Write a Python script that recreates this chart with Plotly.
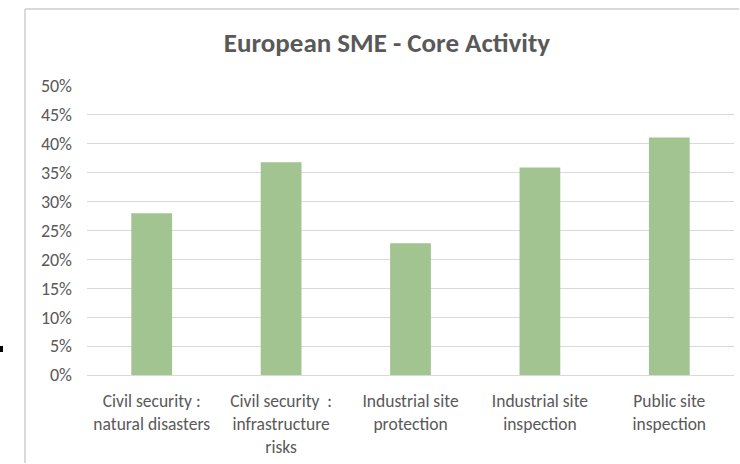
import plotly.graph_objects as go

categories = [
    "Civil security :<br>natural disasters",
    "Civil security \u00a0:<br>infrastructure<br>risks",
    "Industrial site<br>protection",
    "Industrial site<br>inspection",
    "Public site<br>inspection",
]
values = [0.28, 0.368, 0.228, 0.359, 0.411]
tick_vals = [0, 0.05, 0.10, 0.15, 0.20, 0.25, 0.30, 0.35, 0.40, 0.45, 0.50]
tick_text = ["0%", "5%", "10%", "15%", "20%", "25%", "30%", "35%", "40%", "45%", "50%"]

W, H = 740, 464
L, R, T, B = 87, 6, 86, 89
pw, ph = W - L - R, H - T - B

def px_x(px):
    return (px - L) / pw

def px_y(py):
    return (H - B - py) / ph

FONT = "Calibri, Carlito, Lato, sans-serif"
TXT = "#595959"
GRID = "#d9d9d9"

fig = go.Figure(go.Bar(
    x=categories, y=values,
    marker=dict(color="#A1C490", line=dict(width=0)),
    width=0.315,
))

fig.update_layout(
    width=W, height=H,
    margin=dict(l=L, r=R, t=T, b=B),
    paper_bgcolor="white", plot_bgcolor="white",
    showlegend=False,
    font=dict(family=FONT, color=TXT, size=17),
    title=dict(
        text="<b>European SME - Core Activity</b>",
        x=387 / W, xanchor="center",
        y=1 - 43 / H, yanchor="middle",
        xref="container", yref="container",
        font=dict(family=FONT, size=27, color=TXT),
    ),
    xaxis=dict(
        showgrid=False, showline=True, linecolor=GRID, linewidth=1,
        ticks="", tickfont=dict(size=17.5, color=TXT),
        ticklabelstandoff=10,
    ),
    yaxis=dict(
        range=[0, 0.5], tickvals=tick_vals, ticktext=tick_text,
        showgrid=True, gridcolor=GRID, gridwidth=1,
        zeroline=False, showline=False, ticks="",
        tickfont=dict(size=18, color=TXT),
        ticklabelstandoff=14,
    ),
    shapes=[
        dict(type="line", xref="paper", yref="paper",
             x0=px_x(25), x1=px_x(25), y0=px_y(9), y1=px_y(H - 1),
             line=dict(color=GRID, width=2)),
        dict(type="line", xref="paper", yref="paper",
             x0=px_x(25), x1=px_x(W - 1), y0=px_y(9), y1=px_y(9),
             line=dict(color=GRID, width=2)),
        dict(type="rect", xref="paper", yref="paper",
             x0=px_x(0), x1=px_x(3), y0=px_y(346), y1=px_y(352),
             fillcolor="black", line=dict(width=0)),
    ],
)

fig.write_html(
    "out.html",
    config={"displayModeBar": False},
    post_script="document.body.style.margin='0';document.body.style.overflow='hidden';",
)
